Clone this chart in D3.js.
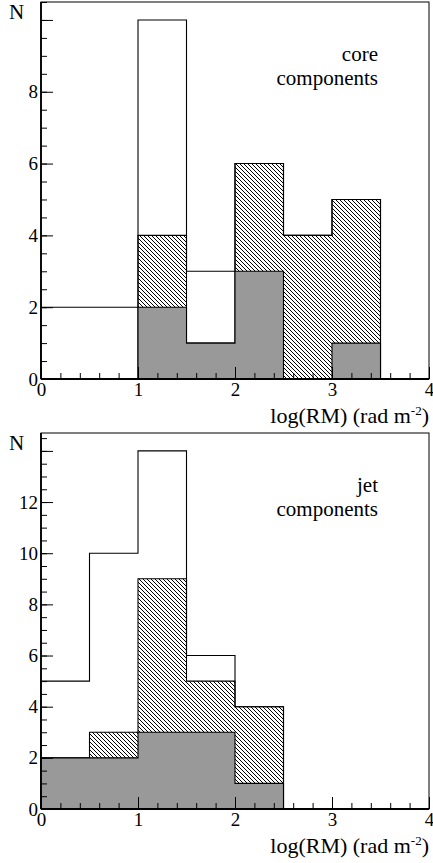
<!DOCTYPE html>
<html>
<head>
<meta charset="utf-8">
<script src="https://cdn.jsdelivr.net/npm/d3@7"></script>
<style>
  body { margin: 0; background: white; }
</style>
</head>
<body>
<div id="chart"></div>
<script>
// bin edges for log(RM), width 0.5
const binEdges = [0, 0.5, 1, 1.5, 2, 2.5, 3, 3.5, 4];

// core components
const coreAll = [2, 2, 10, 3, 6, 4, 5, 0];
const coreHatched = [0, 0, 4, 1, 6, 4, 5, 0];
const coreGrey = [0, 0, 2, 1, 3, 0, 1, 0];

// jet components
const jetAll = [5, 10, 14, 6, 4, 0, 0, 0];
const jetHatched = [2, 3, 9, 5, 4, 0, 0, 0];
const jetGrey = [2, 2, 3, 3, 1, 0, 0, 0];

const xTicks = [0, 1, 2, 3, 4];
const coreYTicks = [0, 2, 4, 6, 8];
const jetYTicks = [0, 2, 4, 6, 8, 10, 12];

const width = 433, height = 863;
const serif = "'Liberation Serif', 'Times New Roman', 'DejaVu Serif', serif";

const svg = d3.select("#chart").append("svg")
    .attr("width", width)
    .attr("height", height);

// diagonal hatch
const defs = svg.append("defs");
defs.append("pattern")
    .attr("id", "hatch")
    .attr("patternUnits", "userSpaceOnUse")
    .attr("width", 4)
    .attr("height", 4)
  .append("path")
    .attr("d", "M-1,-1L5,5M-1,3L1,5M3,-1L5,1")
    .attr("stroke", "black")
    .attr("stroke-width", 1);

function drawPanel(opts) {
    const { top, bottom, yMax, all, hatched, grey, yTicks, line1, line2 } = opts;
    const left = 41, right = 429;

    const x = d3.scaleLinear().domain([0, 4]).range([left, right]);
    const y = d3.scaleLinear().domain([0, yMax]).range([bottom, top]);

    const g = svg.append("g");

    // frame
    g.append("rect")
        .attr("x", left).attr("y", top)
        .attr("width", right - left).attr("height", bottom - top)
        .attr("fill", "white")
        .attr("stroke", "black")
        .attr("stroke-width", 1);

    // step histogram path
    const stepPath = values => {
        let d = `M${x(binEdges[0])},${y(0)}`;
        values.forEach((v, i) => {
            d += `L${x(binEdges[i])},${y(v)}L${x(binEdges[i + 1])},${y(v)}`;
        });
        d += `L${x(binEdges[binEdges.length - 1])},${y(0)}`;
        return d;
    };

    const hists = [
        { values: all, fill: "white" },
        { values: hatched, fill: "url(#hatch)" },
        { values: grey, fill: "#999999" }
    ];

    hists.forEach(h => {
        g.append("path")
            .attr("d", stepPath(h.values) + "Z")
            .attr("fill", h.fill)
            .attr("stroke", "none");
        g.append("path")
            .attr("d", stepPath(h.values))
            .attr("fill", "none")
            .attr("stroke", "black")
            .attr("stroke-width", 1.1);
    });

    // y axis: minor ticks every 0.5, major every 2
    const yMinor = d3.range(0, yMax + 0.001, 0.5);
    g.append("g")
        .attr("transform", `translate(${left},0)`)
        .call(d3.axisLeft(y).tickValues(yMinor).tickSize(-6).tickFormat(""))
        .call(a => a.select(".domain").remove());
    const yMajor = d3.range(0, yMax + 0.001, 2);
    g.append("g")
        .attr("transform", `translate(${left},0)`)
        .call(d3.axisLeft(y).tickValues(yMajor).tickSize(-12).tickPadding(3)
            .tickFormat(d => yTicks.includes(d) ? d : ""))
        .call(a => a.select(".domain").remove())
        .call(a => a.selectAll("text")
            .style("font-family", serif)
            .style("font-size", "19px"));

    // x axis: minor every 0.2, major every 1
    const xMinor = d3.range(0, 4.001, 0.2);
    g.append("g")
        .attr("transform", `translate(0,${bottom})`)
        .call(d3.axisBottom(x).tickValues(xMinor).tickSize(-6).tickFormat(""))
        .call(a => a.select(".domain").remove());
    g.append("g")
        .attr("transform", `translate(0,${bottom})`)
        .call(d3.axisBottom(x).tickValues(xTicks).tickSize(-12).tickPadding(3)
            .tickFormat(d => d))
        .call(a => a.select(".domain").remove())
        .call(a => a.selectAll("text")
            .style("font-family", serif)
            .style("font-size", "19px"));

    g.selectAll(".tick line").attr("stroke", "black").attr("stroke-width", 1);

    // axis lines
    g.append("line")
        .attr("x1", left).attr("x2", left).attr("y1", top).attr("y2", bottom)
        .attr("stroke", "black").attr("stroke-width", 1.8);
    g.append("line")
        .attr("x1", left).attr("x2", right).attr("y1", bottom).attr("y2", bottom)
        .attr("stroke", "black").attr("stroke-width", 1.8);

    // axis titles
    g.append("text")
        .attr("x", 9).attr("y", top + 17)
        .style("font-family", serif)
        .style("font-size", "21px")
        .text("N");

    const title = g.append("text")
        .attr("x", right).attr("y", bottom + 44)
        .attr("text-anchor", "end")
        .style("font-family", serif)
        .style("font-size", "22px");
    title.append("tspan").text("log(RM) (rad m");
    title.append("tspan").attr("dy", -8).style("font-size", "13px").text("-2");
    title.append("tspan").attr("dy", 8).text(")");

    // panel label, two lines
    [line1, line2].forEach((t, i) => {
        g.append("text")
            .attr("x", 378).attr("y", top + 59 + i * 23.5)
            .attr("text-anchor", "end")
            .style("font-family", serif)
            .style("font-size", "21px")
            .text(t);
    });
}

drawPanel({
    top: 2, bottom: 379, yMax: 10.5,
    all: coreAll, hatched: coreHatched, grey: coreGrey,
    yTicks: coreYTicks, line1: "core", line2: "components"
});

drawPanel({
    top: 433, bottom: 809, yMax: 14.7,
    all: jetAll, hatched: jetHatched, grey: jetGrey,
    yTicks: jetYTicks, line1: "jet", line2: "components"
});
</script>
</body>
</html>
